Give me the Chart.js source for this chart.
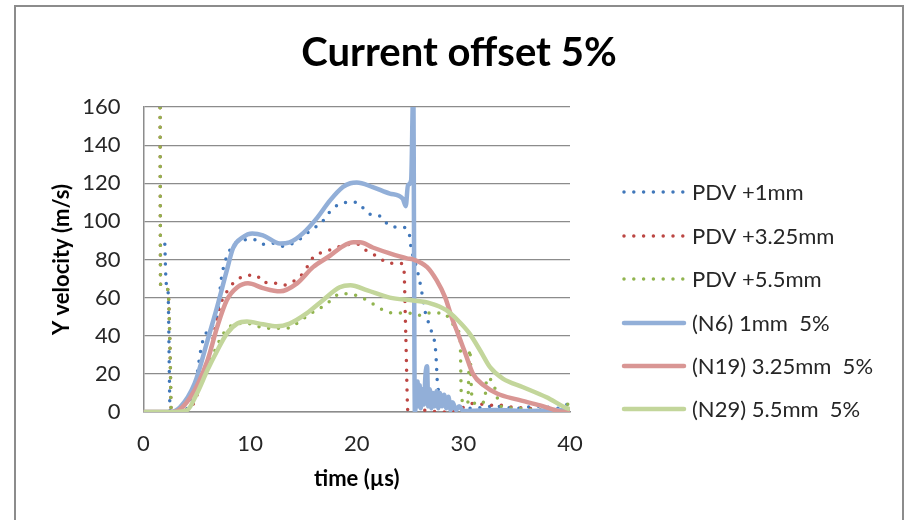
<!DOCTYPE html>
<html>
<head>
<meta charset="utf-8">
<script src="https://cdn.jsdelivr.net/npm/chart.js@4.4.1/dist/chart.umd.min.js"></script>
<style>
    html, body { margin: 0; padding: 0; background: #ffffff; }
    #wrap { width: 905px; height: 520px; position: relative; }
</style>
</head>
<body>
<div id="wrap"><canvas id="chartLine" width="905" height="520"></canvas></div>
<script>
// --- values (time in µs, velocity in m/s) ---
const xTicks = [0, 10, 20, 30, 40];
const yTicks = [0, 20, 40, 60, 80, 100, 120, 140, 160];

const seriesLabels = ["PDV +1mm", "PDV +3.25mm", "PDV +5.5mm", "(N6) 1mm  5%", "(N19) 3.25mm  5%", "(N29) 5.5mm  5%"];

const pdv1Time = [2.0, 2.1, 2.2, 2.3, 2.5, 3.5, 4.3, 4.9, 5.5, 6.2, 6.9, 7.3, 8.1, 9.3, 10.3, 11.2, 12.2, 13.0, 13.8, 14.5, 15.6, 16.7, 17.8, 19.1, 20.0, 20.6, 21.3, 22.1, 22.7, 23.4, 24.2, 24.9, 25.1, 25.6, 26.0, 26.4, 26.9, 27.4, 27.6, 28.0, 28.5, 29.5, 31, 33, 35, 37, 39, 40];
const pdv1Vel = [88, 70, 66, 64, 0, 0, 4, 16, 36, 44, 50, 70, 85, 90, 90.6, 88, 88.5, 87, 88, 90, 95, 99.5, 107, 110, 110, 107, 103.6, 103, 99.5, 97, 97, 94, 86, 76, 66, 53, 44, 32, 13, 9, 7, 3, 2, 3, 2, 3, 2, 5];

const pdv3Time = [1.55, 1.6, 2.0, 2.3, 2.5, 2.6, 4.5, 5.5, 6.3, 7.2, 7.8, 8.4, 9.8, 10.6, 11.2, 12.0, 13.1, 13.9, 15.0, 15.9, 17.5, 18.5, 19.6, 20.1, 20.8, 21.5, 22.2, 23.0, 24.0, 24.4, 24.6, 24.8, 26, 28, 29.5, 30.0, 30.9, 32.7, 33.7, 34.7, 36, 37.3, 38.5, 40];
const pdv3Vel = [175, 67, 65, 64, 30, 0, 3, 17, 33, 56, 63, 67.5, 71.7, 71.7, 68, 68, 66.5, 68, 73, 81, 85, 87, 88, 88, 85, 83, 80.5, 78, 78, 77, 40, 0, 1, 0, 1, 2.4, 4.5, 3.5, 3.5, 2.4, 2, 1, 0, 0];

const pdv5Time = [1.55, 1.6, 2.0, 2.3, 2.5, 2.6, 4.0, 5.0, 6.2, 7.6, 9.0, 9.8, 11.4, 13.0, 13.9, 14.5, 15.8, 17.0, 17.8, 18.4, 19.2, 20.0, 21.0, 21.7, 22.4, 23.3, 24.0, 24.8, 25.7, 26.5, 27.5, 28.1, 28.8, 29.3, 29.7, 29.8, 30.0, 30.4, 30.6, 30.8, 31.3, 32.0, 32.2, 32.8, 33.5, 35, 37, 39, 40];
const pdv5Vel = [175, 67, 65, 64, 30, 0, 0, 10, 26, 42, 46.4, 46.4, 44, 44, 44.4, 47, 52, 56, 59.6, 62, 62, 61, 58.5, 56, 53.7, 52, 52, 52, 50.6, 52, 52, 52, 48, 44, 38, 10, 5, 4, 33, 8, 4, 6, 18, 15, 3, 2, 1, 1, 5];

const n6Time = [0, 2.5, 3.4, 4.8, 6.0, 6.9, 7.8, 8.4, 9.3, 10.2, 11.2, 12.8, 13.7, 15.0, 16.3, 17.5, 18.7, 19.4, 20.0, 21.5, 23.1, 24.3, 24.6, 24.8, 25.1, 25.3, 25.45, 25.7, 25.8, 25.9, 26.0, 26.15, 26.3, 26.45, 26.6, 26.7, 26.85, 27.0, 27.15, 27.3, 27.5, 27.65, 27.8, 28.0, 28.2, 28.4, 28.6, 28.8, 29.0, 29.3, 29.6, 30.0, 33, 36, 39, 40];
const n6Vel = [0, 0, 2.3, 15, 37.5, 55, 74, 86, 91.6, 93.6, 92.7, 88.4, 89, 94, 102, 111, 118, 120, 120.4, 118, 114.6, 112, 108, 119, 121.6, 170, 0, 16, 3, 14, 2, 12, 4, 20, 24, 3, 12, 2, 10, 3, 11, 2, 10, 3, 9, 2, 8, 1, 5, 1, 3, 0.5, 1, 0.5, 1, 0.5];

const n19Time = [0, 2.8, 4.4, 6.0, 6.9, 7.8, 8.8, 9.8, 11.2, 12.8, 14.4, 15.9, 17.5, 18.7, 19.7, 20.3, 21.5, 23.1, 24.7, 25.3, 26.6, 27.5, 28.3, 28.9, 29.5, 30.2, 30.9, 31.9, 33.2, 35.0, 37.2, 39.1, 40];
const n19Vel = [0, 0, 7.7, 27, 44.4, 58.5, 65.4, 67.5, 65, 63.3, 67.5, 76, 82, 87, 89, 89, 86.3, 83.2, 80.6, 80, 76, 69, 60, 49.7, 41, 30.5, 20, 14, 9.6, 6.6, 3.5, 0.3, 0];

const n29Time = [0, 3.0, 4.1, 5.0, 6.0, 6.9, 7.8, 8.8, 9.7, 11.2, 12.5, 13.7, 15.3, 16.8, 18.4, 19.4, 21.0, 23.1, 25.3, 26.9, 28.4, 29.5, 30.6, 31.6, 32.5, 33.7, 35.6, 37.8, 39.7, 40];
const n29Vel = [0, 0, 1, 9.6, 22, 32, 41, 46.4, 47.5, 46, 45, 46.4, 51.7, 58.5, 65.4, 66.5, 63.8, 60, 58.5, 57, 53.4, 48, 41, 32, 23.5, 17.5, 13, 7.7, 2, 1.5];

const lineColors = ["#4077ba", "#bc4643", "#91b44f", "#92afd8", "#d99694", "#c3d69b"];

const FONT = "Lato, 'Open Sans', sans-serif";
const TEXT = "#262626";
const GRID = "#8c8c8c";

function toPoints(times, vels) {
    return times.map((t, i) => ({ x: t, y: vels[i] }));
}

function dottedSet(i, times, vels) {
    return {
        label: seriesLabels[i],
        data: toPoints(times, vels),
        borderColor: lineColors[i],
        backgroundColor: lineColors[i],
        borderWidth: 3.5,
        borderDash: [0, 9.8],
        borderCapStyle: "round",
        pointRadius: 0,
        cubicInterpolationMode: "monotone",
        fill: false,
        order: 6 - i,
        dotted: true,
    };
}

function solidSet(i, times, vels) {
    return {
        label: seriesLabels[i],
        data: toPoints(times, vels),
        borderColor: lineColors[i],
        backgroundColor: lineColors[i],
        borderWidth: 4.5,
        pointRadius: 0,
        cubicInterpolationMode: "monotone",
        fill: false,
        order: 6 - i,
        dotted: false,
    };
}

// frame, title and right-hand legend
const decorPlugin = {
    id: "decor",
    beforeDraw(chart) {
        const ctx = chart.ctx;
        ctx.save();
        ctx.fillStyle = "#ffffff";
        ctx.fillRect(0, 0, chart.width, chart.height);
        ctx.strokeStyle = GRID;
        ctx.lineWidth = 2;
        ctx.strokeRect(15, 6, 888, 530);
        ctx.restore();
    },
    afterDraw(chart) {
        const ctx = chart.ctx;
        ctx.save();
        ctx.fillStyle = "#000000";
        ctx.font = "bold 40px " + FONT;
        ctx.textAlign = "center";
        ctx.textBaseline = "middle";
        ctx.fillText("Current offset 5%", 459, 53);

        const legendY = [192, 236, 279, 323, 366, 409];
        ctx.textAlign = "left";
        ctx.font = "22px " + FONT;
        chart.data.datasets.forEach((ds, i) => {
            const y = legendY[i];
            ctx.beginPath();
            ctx.strokeStyle = ds.borderColor;
            ctx.lineWidth = ds.borderWidth;
            ctx.setLineDash(ds.dotted ? [0, 9.8] : []);
            ctx.lineCap = "round";
            ctx.moveTo(624, y);
            ctx.lineTo(684, y);
            ctx.stroke();
            ctx.fillStyle = TEXT;
            ctx.fillText(ds.label, 692, y + 1);
        });
        ctx.restore();
    }
};

const ctxLine = document.getElementById("chartLine").getContext("2d");
const chartInstanceLine = new Chart(ctxLine, {
    type: "line",
    data: {
        datasets: [
            dottedSet(0, pdv1Time, pdv1Vel),
            dottedSet(1, pdv3Time, pdv3Vel),
            dottedSet(2, pdv5Time, pdv5Vel),
            solidSet(3, n6Time, n6Vel),
            solidSet(4, n19Time, n19Vel),
            solidSet(5, n29Time, n29Vel),
        ],
    },
    options: {
        responsive: false,
        animation: false,
        devicePixelRatio: 1,
        layout: {
            padding: { left: 15, right: 335, top: 107, bottom: 0 },
        },
        plugins: {
            legend: { display: false },
            title: { display: false },
            tooltip: { enabled: false },
        },
        scales: {
            x: {
                type: "linear",
                min: 0,
                max: 40,
                afterBuildTicks: (scale) => { scale.ticks = xTicks.map(v => ({ value: v })); },
                afterFit: (scale) => { scale.height = 108; },
                grid: { display: false, drawTicks: false },
                border: { display: true, color: GRID, width: 1.5 },
                ticks: {
                    padding: 19,
                    color: TEXT,
                    font: { family: FONT, size: 22 },
                    maxRotation: 0,
                },
                title: {
                    display: true,
                    text: "time (µs)",
                    color: "#000000",
                    font: { family: FONT, size: 22, weight: "bold" },
                    padding: { top: 0, bottom: 28 },
                },
            },
            y: {
                type: "linear",
                min: 0,
                max: 160,
                afterBuildTicks: (scale) => { scale.ticks = yTicks.map(v => ({ value: v })); },
                afterFit: (scale) => { scale.width = 128.5; },
                grid: { color: GRID, lineWidth: 1.2, drawTicks: false },
                border: { display: true, color: GRID, width: 1.5 },
                ticks: {
                    padding: 23,
                    color: TEXT,
                    font: { family: FONT, size: 22 },
                },
                title: {
                    display: true,
                    text: "Y velocity (m/s)",
                    color: "#000000",
                    font: { family: FONT, size: 22, weight: "bold" },
                    padding: { top: 34, bottom: 0 },
                },
            },
        },
    },
    plugins: [decorPlugin],
});
</script>
</body>
</html>
